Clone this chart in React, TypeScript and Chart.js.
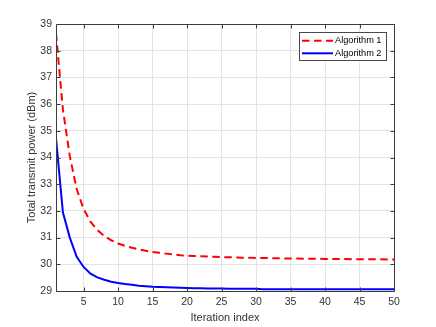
import React, { useEffect, useRef } from "react";
import { Chart, registerables } from "chart.js";

Chart.register(...registerables);

const iterations = [
  1, 2, 3, 4, 5, 6, 7, 8, 9, 10,
  11, 12, 13, 14, 15, 16, 17, 18, 19, 20,
  21, 22, 23, 24, 25, 26, 27, 28, 29, 30,
  31, 32, 33, 34, 35, 36, 37, 38, 39, 40,
  41, 42, 43, 44, 45, 46, 47, 48, 49, 50,
];

const algorithm1 = [
  38.65, 35.8, 34.05, 32.82, 32.07, 31.6, 31.28, 31.06, 30.9, 30.78,
  30.69, 30.62, 30.56, 30.51, 30.46, 30.43, 30.4, 30.37, 30.34, 30.32,
  30.31, 30.3, 30.29, 30.28, 30.27, 30.26, 30.26, 30.25, 30.25, 30.24,
  30.24, 30.23, 30.23, 30.22, 30.22, 30.22, 30.21, 30.21, 30.21, 30.2,
  30.2, 30.2, 30.2, 30.19, 30.19, 30.19, 30.19, 30.19, 30.18, 30.18,
];

const algorithm2 = [
  34.72, 31.95, 31.0, 30.28, 29.9, 29.65, 29.51, 29.42, 29.35, 29.3,
  29.26, 29.23, 29.2, 29.18, 29.16, 29.15, 29.14, 29.13, 29.12, 29.11,
  29.1, 29.1, 29.09, 29.09, 29.09, 29.08, 29.08, 29.08, 29.08, 29.08,
  29.07, 29.07, 29.07, 29.07, 29.07, 29.07, 29.07, 29.07, 29.07, 29.07,
  29.07, 29.07, 29.07, 29.07, 29.07, 29.07, 29.07, 29.07, 29.07, 29.07,
];

const xTickValues = [5, 10, 15, 20, 25, 30, 35, 40, 45, 50];
const yTickValues = [29, 30, 31, 32, 33, 34, 35, 36, 37, 38, 39];
const seriesLabels = ["Algorithm 1", "Algorithm 2"];
const xTitle = "Iteration index";
const yTitle = "Total transmit power (dBm)";

const FONT = "'Liberation Sans', Arial, Helvetica, sans-serif";
const AXIS_COLOR = "#262626";
const TEXT_COLOR = "#333333";

const framePlugin = {
  id: "matlabFrame",
  afterDatasetsDraw(chart: any) {
    const { ctx, chartArea: a, scales } = chart;
    const xs = scales.x;
    const ys = scales.y;
    ctx.save();
    ctx.strokeStyle = "#3c3c3c";
    ctx.lineWidth = 1;
    const L = Math.round(a.left) + 0.5;
    const R = Math.round(a.right) + 0.5;
    const T = Math.round(a.top) + 0.5;
    const B = Math.round(a.bottom) + 0.5;
    ctx.beginPath();
    ctx.rect(L, T, R - L, B - T);
    const tl = 4;
    xTickValues.forEach((v) => {
      const px = Math.round(xs.getPixelForValue(v)) + 0.5;
      ctx.moveTo(px, B);
      ctx.lineTo(px, B - tl);
      ctx.moveTo(px, T);
      ctx.lineTo(px, T + tl);
    });
    yTickValues.forEach((v) => {
      const py = Math.round(ys.getPixelForValue(v)) + 0.5;
      ctx.moveTo(L, py);
      ctx.lineTo(L + tl, py);
      ctx.moveTo(R, py);
      ctx.lineTo(R - tl, py);
    });
    ctx.stroke();

    // legend box
    const bx = 299.5;
    const by = 32.5;
    const bw = 87;
    const bh = 28;
    ctx.fillStyle = "#ffffff";
    ctx.fillRect(bx, by, bw, bh);
    ctx.strokeStyle = "#4a4a4a";
    ctx.strokeRect(bx, by, bw, bh);
    const rows = [40.7, 53.3];
    chart.data.datasets.forEach((ds: any, i: number) => {
      const y = rows[i];
      ctx.beginPath();
      ctx.strokeStyle = ds.borderColor;
      ctx.lineWidth = ds.borderWidth;
      ctx.setLineDash(ds.borderDash || []);
      ctx.moveTo(302, y);
      ctx.lineTo(333, y);
      ctx.stroke();
      ctx.setLineDash([]);
      ctx.fillStyle = "#000000";
      ctx.font = `9.2px ${FONT}`;
      ctx.textBaseline = "middle";
      ctx.textAlign = "left";
      ctx.fillText(ds.label, 335, y);
    });
    ctx.restore();
  },
};

export default function App() {
  const canvasRef = useRef<HTMLCanvasElement | null>(null);

  useEffect(() => {
    document.body.style.margin = "0";
    const canvas = canvasRef.current;
    if (!canvas) return;
    const chart = new Chart(canvas, {
      type: "line",
      data: {
        datasets: [
          {
            label: seriesLabels[0],
            data: iterations.map((x, i) => ({ x, y: algorithm1[i] })),
            borderColor: "#ff0000",
            borderWidth: 2,
            borderDash: [7.5, 4.5],
            pointRadius: 0,
            fill: false,
            tension: 0,
          },
          {
            label: seriesLabels[1],
            data: iterations.map((x, i) => ({ x, y: algorithm2[i] })),
            borderColor: "#0000ff",
            borderWidth: 2,
            pointRadius: 0,
            fill: false,
            tension: 0,
          },
        ],
      },
      options: {
        responsive: false,
        animation: false,
        layout: { padding: { top: 24, right: 42, left: 0, bottom: 0 } },
        plugins: {
          legend: { display: false },
          tooltip: { enabled: false },
        },
        scales: {
          x: {
            type: "linear",
            min: 1,
            max: 50,
            afterBuildTicks: (scale: any) => {
              scale.ticks = xTickValues.map((v) => ({ value: v }));
            },
            afterFit: (scale: any) => {
              scale.height = 36;
            },
            grid: { color: "#e3e3e3", drawTicks: false },
            border: { display: false },
            ticks: {
              color: TEXT_COLOR,
              font: { family: FONT, size: 10.5 },
              padding: 5,
              maxRotation: 0,
              autoSkip: false,
            },
            title: {
              display: true,
              text: xTitle,
              color: TEXT_COLOR,
              font: { family: FONT, size: 11 },
              padding: { top: 0, bottom: 2.4 },
            },
          },
          y: {
            type: "linear",
            min: 29,
            max: 39,
            afterBuildTicks: (scale: any) => {
              scale.ticks = yTickValues.map((v) => ({ value: v }));
            },
            afterFit: (scale: any) => {
              scale.width = 56;
            },
            grid: { color: "#e3e3e3", drawTicks: false },
            border: { display: false },
            ticks: {
              color: TEXT_COLOR,
              font: { family: FONT, size: 10.5 },
              padding: 4,
              autoSkip: false,
            },
            title: {
              display: true,
              text: yTitle,
              color: TEXT_COLOR,
              font: { family: FONT, size: 11 },
              padding: { top: 25, bottom: 0 },
            },
          },
        },
      },
      plugins: [framePlugin],
    } as any);
    return () => chart.destroy();
  }, []);

  return (
    <div style={{ width: 436, height: 327 }}>
      <canvas ref={canvasRef} width={436} height={327} style={{ display: "block" }} />
    </div>
  );
}
